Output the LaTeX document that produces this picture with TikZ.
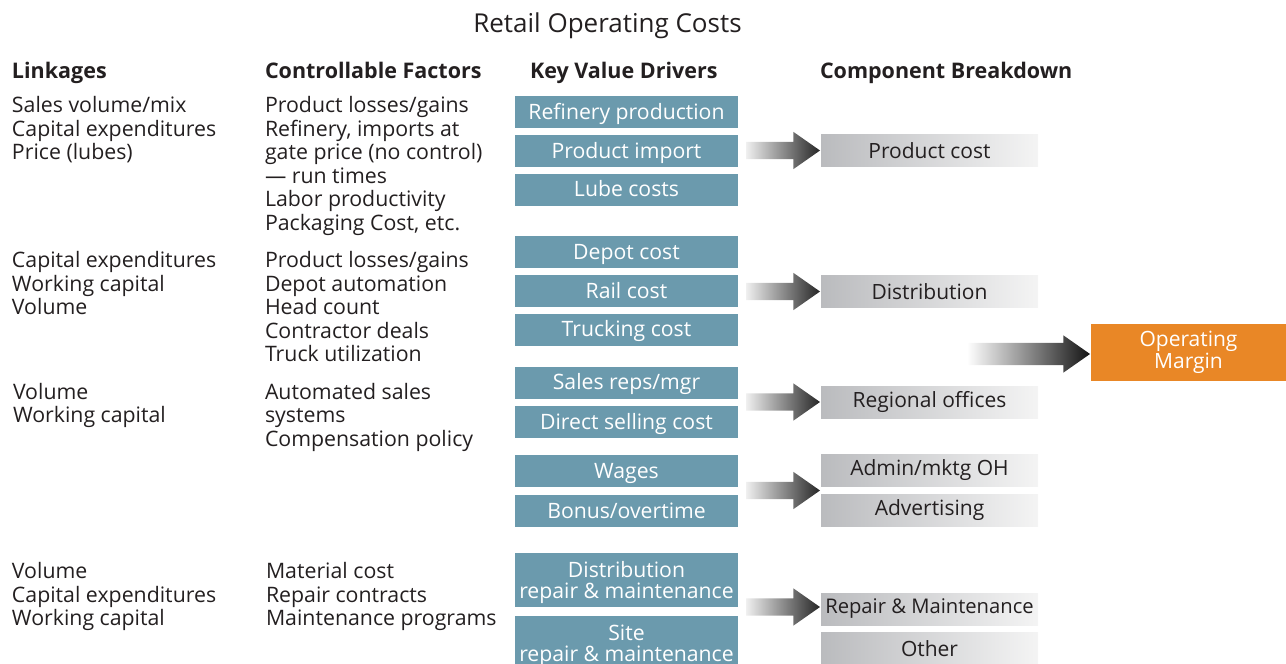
\documentclass[tikz,border=0pt]{standalone}
\usepackage{fontspec}
\setmainfont{Open Sans}
\usetikzlibrary{shapes.arrows}

\definecolor{driverblue}{RGB}{107,154,173}
\definecolor{marginorange}{RGB}{233,135,38}
\definecolor{compleft}{RGB}{186,187,190}
\definecolor{compright}{RGB}{244,244,244}
\definecolor{inkdark}{RGB}{35,31,32}

% a left-aligned stack of lines whose baseline is that of its first line
\newcommand\linestack[1]{\begin{tabular}[t]{@{}l@{}}#1\end{tabular}}

\begin{document}
\begin{tikzpicture}[x=1pt,y=-1pt,
  every node/.style={inner sep=0pt, outer sep=0pt},
  title/.style={font=\fontsize{26}{30}\selectfont, text=inkdark, anchor=base},
  header/.style={font=\fontsize{21.5}{25}\selectfont\bfseries, text=inkdark, anchor=base west},
  body/.style={font=\fontsize{21.3}{23.5}\selectfont, text=inkdark, anchor=base west},
  driver/.style={fill=driverblue, text=white, minimum width=223pt, minimum height=32pt,
    font=\fontsize{21.2}{21}\selectfont, align=center, text height=19.5pt, text depth=5.5pt},
  driver2/.style={driver, minimum height=54pt, text height=42pt},
  component/.style={left color=compleft, right color=compright, minimum width=217pt,
    minimum height=32pt, font=\fontsize{21}{22}\selectfont, text=inkdark},
  flowarrow/.style={single arrow, draw=none, anchor=tip, inner xsep=0pt, inner ysep=8.5pt,
    minimum height=74pt, single arrow head extend=10pt, single arrow tip angle=70,
    left color=black!6, right color=black!85},
  bigarrow/.style={single arrow, draw=none, anchor=tip, inner xsep=0pt, inner ysep=11pt,
    minimum height=123pt, single arrow head extend=7.5pt, single arrow tip angle=70,
    left color=white, right color=black!92}
]
\useasboundingbox (0,0) rectangle (1286,664);

% title and column headings
\node[title] (ttl) at (607.5,32.5) {Retail Operating Costs};
\node[header] (hlink) at (12,78.5) {Linkages};
\node[header] (hctrl) at (265,78.5) {Controllable Factors};
\node[header] (hkey) at (530,78.5) {Key Value Drivers};
\node[header] (hcomp) at (820,78.5) {Component Breakdown};

% linkages and controllable factors
\node[body] (l1) at (12,112.5) {\linestack{Sales volume/mix\\Capital expenditures\\Price (lubes)}};
\node[body] (c1) at (265,112.5) {\linestack{Product losses/gains\\Refinery, imports at\\gate price (no control)\\— run times\\Labor productivity\\Packaging Cost, etc.}};
\node[body] (l2) at (12,267.5) {\linestack{Capital expenditures\\Working capital\\Volume}};
\node[body] (c2) at (265,267.5) {\linestack{Product losses/gains\\Depot automation\\Head count\\Contractor deals\\Truck utilization}};
\node[body] (l3) at (13,399) {\linestack{Volume\\Working capital}};
\node[body] (c3) at (265,399) {\linestack{Automated sales\\systems\\Compensation policy}};
\node[body] (l4) at (12,578.5) {\linestack{Volume\\Capital expenditures\\Working capital}};
\node[body] (c4) at (266,578.5) {\linestack{Material cost\\Repair contracts\\Maintenance programs}};

% key value drivers
\node[driver] (ref) at (626.5,112) {Refinery production};
\node[driver] (imp) at (626.5,151) {Product import};
\node[driver] (lube) at (626.5,189.5) {Lube costs};
\node[driver] (depot) at (626.5,252) {Depot cost};
\node[driver] (rail) at (626.5,291) {Rail cost};
\node[driver] (truck) at (626.5,329.5) {Trucking cost};
\node[driver] (sales) at (626.5,382.5) {Sales reps/mgr};
\node[driver] (direct) at (626.5,422) {Direct selling cost};
\node[driver] (wages) at (626.5,471) {Wages};
\node[driver] (bonus) at (626.5,511) {Bonus/overtime};
\node[driver2] (distrm) at (626.5,580) {Distribution\\repair \& maintenance};
\node[driver2] (sitrm) at (626.5,643) {Site\\repair \& maintenance};

% component breakdown
\node[component] (pc) at (929.5,150.5) {Product cost};
\node[component] (dist) at (929.5,291.5) {Distribution};
\node[component] (reg) at (929.5,402) {Regional offices};
\node[component] (admin) at (929.5,470.5) {Admin/mktg OH};
\node[component] (adv) at (929.5,510.5) {Advertising};
\node[component, font=\fontsize{20.2}{22}\selectfont] (rm) at (929.5,609) {Repair \& Maintenance};
\node[component] (oth) at (929.5,648.5) {Other};

% operating margin
\node[fill=marginorange, text=white, minimum width=195pt, minimum height=57pt,
  align=center, font=\fontsize{21}{22}\selectfont] (om) at (1188.5,352.5) {Operating\\Margin};

% flow arrows into the components
\node[flowarrow] (a1) at ([xshift=-1pt]pc.west) {};
\node[flowarrow] (a2) at ([xshift=-1pt]dist.west) {};
\node[flowarrow] (a3) at ([xshift=-1pt]reg.west) {};
\node[flowarrow] (a4) at ([xshift=-1pt,yshift=-4pt]admin.south west) {};
\node[flowarrow] (a5) at ([xshift=-1pt,yshift=2pt]rm.west) {};
\node[bigarrow] (a6) at ([xshift=-1pt,yshift=-1.5pt]om.west) {};
\end{tikzpicture}
\end{document}
